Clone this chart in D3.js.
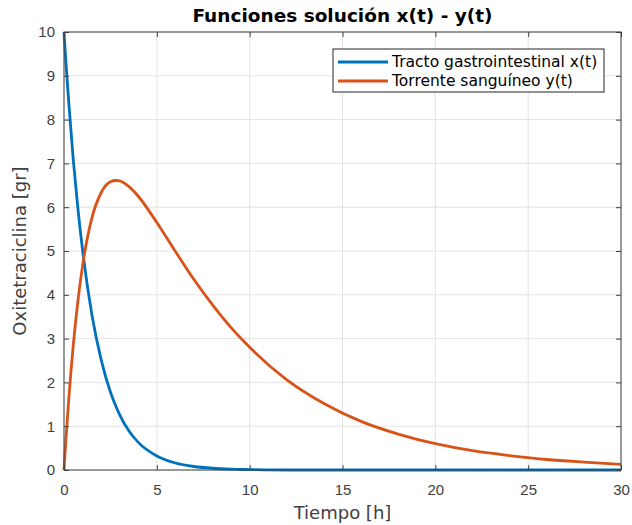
<!DOCTYPE html>
<html>
<head>
<meta charset="utf-8">
<script src="https://cdn.jsdelivr.net/npm/d3@7"></script>
<style>
  body { margin: 0; background: #fff; }
  svg { font-family: "DejaVu Sans", sans-serif; }
</style>
</head>
<body>
<div id="chart"></div>
<script>
// values
const tiempo = [0, 0.1, 0.25, 0.5, 0.75, 1, 1.5, 2, 2.5, 2.8, 3, 3.5, 4, 5, 6, 7, 8, 9, 10, 12, 14, 16, 18, 20, 22, 24, 26, 28, 30];
const gastro = [10, 9.33, 8.42, 7.08, 5.96, 5.02, 3.55, 2.52, 1.78, 1.45, 1.26, 0.89, 0.63, 0.32, 0.16, 0.08, 0.04, 0.02, 0.01, 0, 0, 0, 0, 0, 0, 0, 0, 0, 0];
const sangre = [0, 0.67, 1.58, 2.85, 3.86, 4.66, 5.75, 6.33, 6.58, 6.61, 6.60, 6.47, 6.25, 5.65, 4.99, 4.35, 3.77, 3.25, 2.80, 2.06, 1.52, 1.11, 0.82, 0.60, 0.44, 0.33, 0.24, 0.18, 0.13];
const xTicks = [0, 5, 10, 15, 20, 25, 30];
const yTicks = [0, 1, 2, 3, 4, 5, 6, 7, 8, 9, 10];
const series = [
  { name: "Tracto gastrointestinal x(t)", values: gastro, color: "#0072BD" },
  { name: "Torrente sanguíneo y(t)", values: sangre, color: "#D95319" }
];

const width = 632, height = 525;
const margin = { top: 32, right: 11, bottom: 55, left: 64 };
const w = width - margin.left - margin.right;
const h = height - margin.top - margin.bottom;

const svg = d3.select("#chart").append("svg")
  .attr("width", width)
  .attr("height", height);

const g = svg.append("g").attr("transform", `translate(${margin.left},${margin.top})`);

const x = d3.scaleLinear([0, 30], [0, w]);
const y = d3.scaleLinear([0, 10], [h, 0]);

// grid
g.append("g").selectAll("line").data(xTicks).join("line")
  .attr("x1", d => x(d)).attr("x2", d => x(d))
  .attr("y1", 0).attr("y2", h)
  .attr("stroke", "#e3e3e3");
g.append("g").selectAll("line").data(yTicks).join("line")
  .attr("y1", d => y(d)).attr("y2", d => y(d))
  .attr("x1", 0).attr("x2", w)
  .attr("stroke", "#e3e3e3");

// curves
const line = d3.line()
  .x((d, i) => x(tiempo[i]))
  .y(d => y(d))
  .curve(d3.curveMonotoneX);

g.append("g").selectAll("path").data(series).join("path")
  .attr("fill", "none")
  .attr("stroke", d => d.color)
  .attr("stroke-width", 2.8)
  .attr("d", d => line(d.values));

// axes, ticks inside on all four sides
const axisColor = "#404040";
const styleAxis = sel => {
  sel.select(".domain").remove();
  sel.selectAll(".tick line").attr("stroke", axisColor);
  sel.selectAll(".tick text").attr("fill", axisColor).style("font-size", "15px");
};
g.append("g").attr("transform", `translate(0,${h})`)
  .call(d3.axisBottom(x).tickValues(xTicks).tickSize(-5).tickPadding(14))
  .call(styleAxis);
g.append("g")
  .call(d3.axisTop(x).tickValues(xTicks).tickSize(-5).tickFormat(""))
  .call(styleAxis);
g.append("g")
  .call(d3.axisLeft(y).tickValues(yTicks).tickSize(-5).tickPadding(9))
  .call(styleAxis);
g.append("g").attr("transform", `translate(${w},0)`)
  .call(d3.axisRight(y).tickValues(yTicks).tickSize(-5).tickFormat(""))
  .call(styleAxis);

g.append("rect")
  .attr("width", w).attr("height", h)
  .attr("fill", "none")
  .attr("stroke", axisColor)
  .attr("stroke-width", 1);

// labels
svg.append("text")
  .attr("x", margin.left + w / 2).attr("y", 22)
  .attr("text-anchor", "middle")
  .attr("font-weight", "bold")
  .attr("font-size", 18.5)
  .attr("fill", "#000")
  .text("Funciones solución x(t) - y(t)");

svg.append("text")
  .attr("x", margin.left + w / 2).attr("y", 519)
  .attr("text-anchor", "middle")
  .attr("font-size", 18)
  .attr("fill", axisColor)
  .text("Tiempo [h]");

svg.append("text")
  .attr("transform", `translate(26,${margin.top + h / 2}) rotate(-90)`)
  .attr("text-anchor", "middle")
  .attr("font-size", 18)
  .attr("fill", axisColor)
  .text("Oxitetraciclina [gr]");

// legend
const legend = svg.append("g").attr("transform", "translate(333,49)");
legend.append("rect")
  .attr("width", 271).attr("height", 43)
  .attr("fill", "#fff")
  .attr("stroke", "#262626");
const item = legend.selectAll("g").data(series).join("g")
  .attr("transform", (d, i) => `translate(0,${13 + i * 19})`);
item.append("line")
  .attr("x1", 5).attr("x2", 55)
  .attr("stroke", d => d.color)
  .attr("stroke-width", 2.8);
item.append("text")
  .attr("x", 59).attr("dy", "0.35em")
  .attr("font-size", 15.5)
  .attr("fill", "#000")
  .text(d => d.name);
</script>
</body>
</html>
